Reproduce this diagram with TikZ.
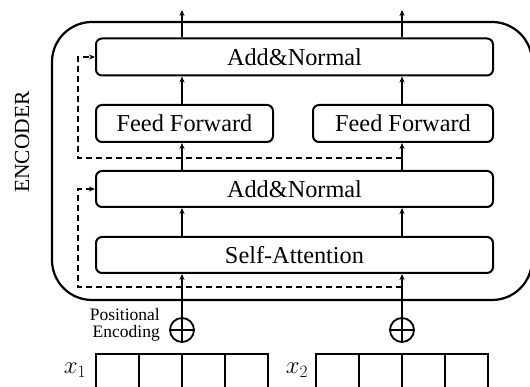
\documentclass[tikz,border=0pt]{standalone}
\usepackage{fontspec}
\setmainfont{Liberation Serif}
\usetikzlibrary{arrows.meta}
\tikzset{>={Stealth[length=6pt,width=5pt]}}
\tikzset{
  layer/.style={draw, line width=2pt, rounded corners=6pt, minimum height=37pt,
    inner sep=0pt, font=\fontsize{24.3}{28}\selectfont},
  plus/.style={draw, circle, line width=1.8pt, minimum size=24pt, inner sep=0pt},
  flow/.style={->, line width=1.8pt},
  skip/.style={->, line width=1.8pt, dash pattern=on 6pt off 4pt},
  cell/.style={line width=2pt}
}
\begin{document}
\begin{tikzpicture}[x=1pt,y=-1pt]
    \useasboundingbox (0,0) rectangle (530,387);
    \clip (0,0) rectangle (530,387);
    % encoder frame
    \node[draw, line width=2.2pt, rounded corners=40pt, minimum width=480pt,
      minimum height=278pt] (enc) at (292,161) {};
    \node[rotate=90, font=\fontsize{21.5}{24}\selectfont] (lbl) at (22,142) {ENCODER};
    % layers
    \node[layer, minimum width=397pt] (anTop) at (294.5,57) {Add\&Normal};
    \node[layer, minimum width=177pt] (ffL) at (184.5,123.5) {Feed Forward};
    \node[layer, minimum width=180pt] (ffR) at (403,123.5) {Feed Forward};
    \node[layer, minimum width=397pt, minimum height=36pt] (anMid) at (294.5,189) {Add\&Normal};
    \node[layer, minimum width=397pt, minimum height=36pt] (sa) at (294.5,255) {Self-Attention};
    % positional encoding
    \node[plus] (pL) at (182,330) {};
    \node[plus] (pR) at (402,330) {};
    \draw[line width=1.8pt] (pL.west) -- (pL.east) (pR.west) -- (pR.east);
    \node[anchor=east, align=right, inner sep=1pt, font=\fontsize{17.5}{17.5}\selectfont] (pe) at (161,325) {Positional\\Encoding};
    % inputs
    \foreach \i in {0,...,3} {
        \draw[cell] ({96+43*\i},354) rectangle ++(43,45);
        \draw[cell] ({316+43*\i},354) rectangle ++(43,45);
    }
    \node[font=\fontsize{25}{28}\selectfont] (x1) at (75,370) {$x_1$};
    \node[font=\fontsize{25}{28}\selectfont] (x2) at (297,370) {$x_2$};
    % main flow
    \coordinate (outL) at (182,10);
    \coordinate (outR) at (402,10);
    \foreach \c/\p in {pL/outL, pR/outR} {
        \draw[flow] (\c.south) -- (sa.south -| \p);
        \draw[flow] (sa.north -| \p) -- (anMid.south -| \p);
        \draw[flow] (anMid.north -| \p) -- (ffL.south -| \p);
        \draw[flow] (ffL.north -| \p) -- (anTop.south -| \p);
        \draw[flow] (anTop.north -| \p) -- (\p);
    }
    % residual paths
    \coordinate (res1) at (402,158);
    \coordinate (res2) at (402,287);
    \draw[skip] (res1) -- ++(-324,0) |- (anTop.west);
    \draw[skip] (res2) -- ++(-324,0) |- (anMid.west);
\end{tikzpicture}
\end{document}
